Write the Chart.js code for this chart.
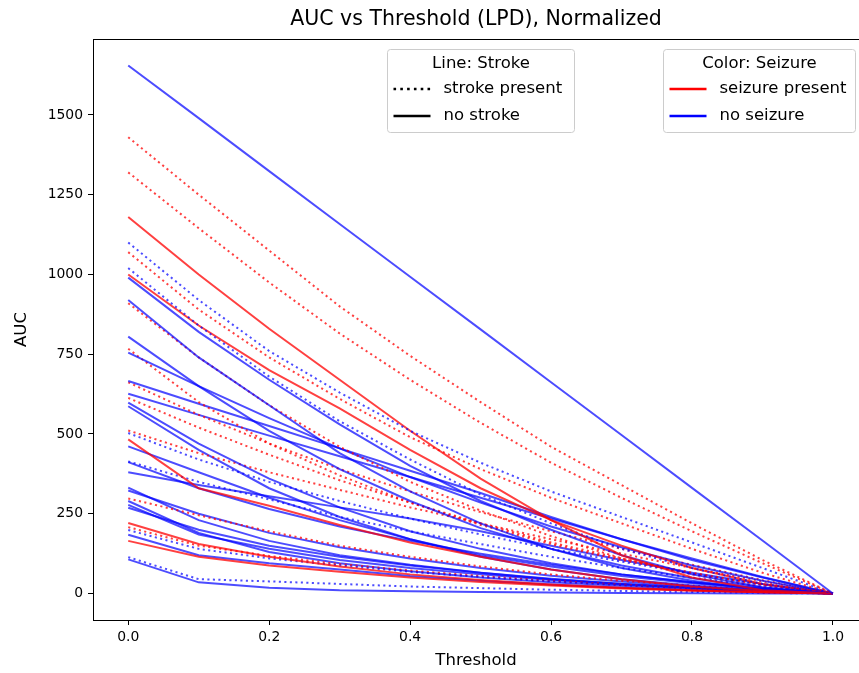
<!DOCTYPE html>
<html>
<head>
<meta charset="utf-8">
<script src="https://cdn.jsdelivr.net/npm/chart.js@4.4.1/dist/chart.umd.min.js"></script>
<style>
    html, body { margin: 0; padding: 0; background: #fff; }
</style>
</head>
<body>
<canvas id="graficoAUC" width="859" height="673"></canvas>
<script>
// Datos
const umbrales = [0, 0.1, 0.2, 0.3, 0.4, 0.5, 0.6, 0.7, 0.8, 0.9, 1.0];
const ticksX = [0, 0.2, 0.4, 0.6, 0.8, 1.0];
const ticksY = [0, 250, 500, 750, 1000, 1250, 1500];

// Convulsión + ACV
const convulsionConAcv = [
    [1430, 1250, 1075, 900, 745, 600, 460, 340, 220, 105, 0],
    [1320, 1145, 975, 815, 670, 535, 410, 300, 195, 95, 0],
    [1070, 890, 740, 610, 490, 390, 300, 220, 140, 65, 0],
    [910, 740, 590, 460, 350, 260, 180, 110, 60, 20, 0],
    [767, 600, 470, 370, 285, 215, 155, 105, 62, 28, 0],
    [662, 560, 470, 390, 320, 255, 195, 140, 90, 42, 0],
    [613, 520, 435, 355, 285, 220, 160, 110, 65, 28, 0],
    [511, 440, 380, 325, 270, 220, 170, 125, 80, 38, 0],
    [298, 245, 195, 150, 115, 85, 60, 40, 25, 10, 0],
    [208, 150, 118, 92, 72, 55, 40, 28, 17, 8, 0]
];

// Convulsión sin ACV
const convulsionSinAcv = [
    [1180, 1000, 830, 670, 510, 360, 230, 120, 50, 10, 0],
    [1000, 840, 700, 580, 450, 330, 230, 150, 80, 30, 0],
    [483, 330, 275, 215, 160, 115, 75, 45, 22, 8, 0],
    [221, 155, 115, 85, 60, 42, 28, 18, 10, 4, 0],
    [165, 115, 88, 68, 50, 36, 25, 16, 9, 4, 0]
];

// Sin convulsión + ACV
const sinConvulsionConAcv = [
    [1100, 920, 760, 630, 510, 410, 320, 240, 160, 80, 0],
    [1020, 840, 680, 540, 420, 310, 220, 140, 80, 30, 0],
    [503, 420, 350, 290, 235, 185, 140, 100, 62, 28, 0],
    [414, 350, 295, 240, 195, 155, 115, 80, 50, 22, 0],
    [199, 140, 110, 88, 68, 52, 38, 26, 16, 7, 0],
    [114, 45, 38, 30, 22, 17, 12, 8, 5, 2, 0]
];

// Sin convulsión ni ACV
const sinConvulsionSinAcv = [
    [1655, 1490, 1324, 1158, 993, 828, 662, 497, 331, 166, 0],
    [990, 820, 670, 530, 400, 290, 200, 120, 60, 20, 0],
    [920, 740, 590, 440, 320, 220, 140, 80, 40, 12, 0],
    [805, 650, 510, 390, 290, 205, 140, 88, 48, 18, 0],
    [755, 650, 550, 455, 365, 285, 210, 145, 88, 40, 0],
    [666, 595, 525, 455, 385, 315, 240, 170, 105, 50, 0],
    [626, 560, 495, 430, 365, 300, 235, 170, 110, 52, 0],
    [598, 470, 360, 270, 195, 140, 95, 60, 35, 15, 0],
    [587, 450, 330, 240, 170, 115, 75, 45, 25, 10, 0],
    [461, 380, 300, 230, 170, 120, 85, 55, 32, 14, 0],
    [412, 330, 265, 210, 165, 125, 90, 60, 35, 15, 0],
    [380, 340, 305, 270, 235, 195, 150, 105, 65, 30, 0],
    [332, 230, 165, 120, 90, 65, 45, 30, 18, 8, 0],
    [323, 250, 190, 145, 110, 80, 56, 38, 22, 10, 0],
    [290, 190, 130, 95, 70, 50, 35, 24, 14, 6, 0],
    [278, 185, 140, 105, 80, 60, 42, 28, 17, 7, 0],
    [269, 200, 150, 115, 88, 65, 46, 31, 19, 8, 0],
    [184, 120, 95, 75, 55, 40, 28, 18, 10, 4, 0],
    [107, 35, 18, 10, 7, 5, 3, 2, 1, 0, 0]
];

const ROJO = 'rgba(255,0,0,0.75)';
const AZUL = 'rgba(0,0,255,0.7)';
const PUNTEADO = [2.1, 3.4];
const FUENTE = 'DejaVu Sans';

Chart.defaults.font.family = FUENTE;
Chart.defaults.color = '#000';

// Construir datasets intercalando los grupos
function crearDataset(valores, color, punteado) {
    return {
        data: valores.map((v, i) => ({ x: umbrales[i], y: v })),
        borderColor: color,
        borderWidth: 2,
        borderDash: punteado ? PUNTEADO : [],
        pointRadius: 0,
        tension: 0,
        fill: false
    };
}
const grupos = [
    { lista: sinConvulsionSinAcv, color: AZUL, punteado: false },
    { lista: convulsionConAcv, color: ROJO, punteado: true },
    { lista: sinConvulsionConAcv, color: AZUL, punteado: true },
    { lista: convulsionSinAcv, color: ROJO, punteado: false }
];
const datasets = [];
const maxLen = Math.max(...grupos.map(g => g.lista.length));
for (let i = 0; i < maxLen; i++) {
    grupos.forEach(g => {
        if (g.lista[i]) datasets.push(crearDataset(g.lista[i], g.color, g.punteado));
    });
}

// Marco superior del eje
const marcoSuperior = {
    id: 'marcoSuperior',
    afterDraw(chart) {
        const { ctx, chartArea } = chart;
        ctx.save();
        ctx.strokeStyle = '#000';
        ctx.lineWidth = 1;
        ctx.beginPath();
        ctx.moveTo(chartArea.left, chartArea.top + 0.5);
        ctx.lineTo(chart.width, chartArea.top + 0.5);
        ctx.stroke();
        ctx.restore();
    }
};

// Leyendas dibujadas a mano (dos cajas)
function cajaLeyenda(ctx, x0, x1, titulo, entradas) {
    const y0 = 49.5, y1 = 132.5;
    ctx.save();
    ctx.fillStyle = 'rgba(255,255,255,0.8)';
    ctx.strokeStyle = '#cccccc';
    ctx.lineWidth = 1;
    ctx.beginPath();
    ctx.roundRect(x0, y0, x1 - x0, y1 - y0, 3);
    ctx.fill();
    ctx.stroke();
    ctx.font = `16.5px ${FUENTE}`;
    ctx.fillStyle = '#000';
    ctx.textBaseline = 'middle';
    ctx.textAlign = 'center';
    ctx.fillText(titulo, (x0 + x1) / 2, 64);
    ctx.textAlign = 'left';
    entradas.forEach((e, i) => {
        const y = 89 + i * 27;
        ctx.strokeStyle = e.color;
        ctx.lineWidth = 2.6;
        ctx.setLineDash(e.dash);
        ctx.beginPath();
        ctx.moveTo(x0 + 6, y);
        ctx.lineTo(x0 + 43, y);
        ctx.stroke();
        ctx.setLineDash([]);
        ctx.fillText(e.texto, x0 + 56, y);
    });
    ctx.restore();
}
const leyendas = {
    id: 'leyendas',
    afterDraw(chart) {
        const ctx = chart.ctx;
        cajaLeyenda(ctx, 387.5, 574.5, 'Line: Stroke', [
            { texto: 'stroke present', color: '#000', dash: [2.6, 4.2] },
            { texto: 'no stroke', color: '#000', dash: [] }
        ]);
        cajaLeyenda(ctx, 663.5, 855.5, 'Color: Seizure', [
            { texto: 'seizure present', color: '#ff0000', dash: [] },
            { texto: 'no seizure', color: '#0000ff', dash: [] }
        ]);
    }
};

const ctxG = document.getElementById('graficoAUC').getContext('2d');
const grafico = new Chart(ctxG, {
    type: 'line',
    data: { datasets },
    options: {
        responsive: false,
        animation: false,
        devicePixelRatio: 1,
        layout: { padding: 0 },
        scales: {
            x: {
                type: 'linear',
                min: -0.05,
                max: 1.037,
                afterBuildTicks: s => { s.ticks = ticksX.map(v => ({ value: v })); },
                afterFit: s => { s.height = 53; },
                ticks: { callback: v => v.toFixed(1), font: { size: 13.9 }, padding: 4, maxRotation: 0 },
                grid: { drawOnChartArea: false, drawTicks: true, tickLength: 5, color: '#000', lineWidth: 1 },
                border: { display: true, color: '#000', width: 1 },
                title: { display: true, text: 'Threshold', font: { size: 16.5 }, padding: { top: 0, bottom: 2 } }
            },
            y: {
                type: 'linear',
                min: -83,
                max: 1738,
                afterBuildTicks: s => { s.ticks = ticksY.map(v => ({ value: v })); },
                afterFit: s => { s.width = 93; },
                ticks: { callback: v => String(v), font: { size: 13.9 }, padding: 5 },
                grid: { drawOnChartArea: false, drawTicks: true, tickLength: 5, color: '#000', lineWidth: 1 },
                border: { display: true, color: '#000', width: 1 },
                title: { display: true, text: 'AUC', font: { size: 16.5 }, padding: { top: 12, bottom: 0 } }
            }
        },
        plugins: {
            legend: { display: false },
            tooltip: { enabled: false },
            title: {
                display: true,
                fullSize: false,
                text: 'AUC vs Threshold (LPD), Normalized',
                font: { size: 20.5, weight: 'normal' },
                padding: { top: 7, bottom: 7.4 }
            }
        }
    },
    plugins: [marcoSuperior, leyendas]
});
</script>
</body>
</html>
